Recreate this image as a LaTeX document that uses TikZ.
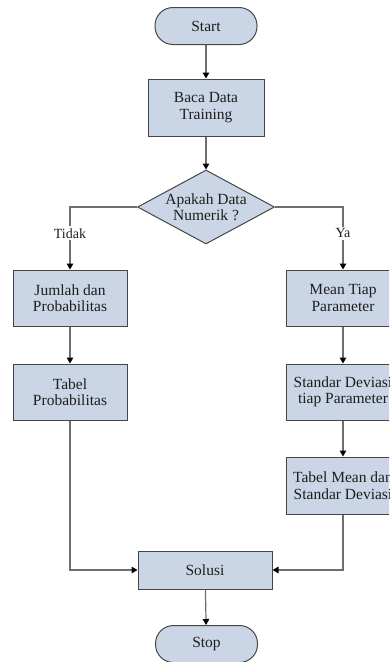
\documentclass[tikz,border=0pt]{standalone}
\usepackage{fontspec}
\setmainfont{Liberation Serif}
\usetikzlibrary{shapes.geometric,arrows.meta}

\definecolor{boxfill}{RGB}{202,214,230}
\definecolor{boxline}{RGB}{70,70,70}
\definecolor{linecol}{RGB}{110,110,110}
\definecolor{textcol}{RGB}{30,30,30}

\tikzset{
    box/.style={draw=boxline, fill=boxfill, line width=1pt, minimum width=114pt,
        minimum height=56pt, inner sep=0pt, align=center, text=textcol,
        font=\fontsize{15.5}{16.5}\selectfont},
    term/.style={box, rounded corners=18pt, minimum width=102pt, minimum height=37pt},
    cond/.style={diamond, draw=boxline, fill=boxfill, line width=1pt, aspect=1.85,
        minimum width=137pt, minimum height=74pt, inner sep=0pt, align=center,
        text=textcol, font=\fontsize{15.5}{16.5}\selectfont},
    flow/.style={draw=linecol, line width=1.2pt, -{Triangle[length=6pt,width=6.5pt,color=black]}},
    lbl/.style={fill=white, text=textcol, inner sep=2pt, font=\fontsize{14}{15}\selectfont}
}

\begin{document}
\begin{tikzpicture}[x=1pt, y=-1pt]
    \useasboundingbox (0,0) rectangle (389,662);
    \clip (0,0) rectangle (389,662);

    % Main column
    \node[term] (start) at (206,26) {Start};
    \node[box, minimum width=116pt, minimum height=57pt] (baca) at (206,107.5) {Baca Data\\Training};
    \node[cond] (cek) at (206,207) {Apakah Data\\Numerik ?};

    % Left branch (Tidak)
    \node[box] (jumlah) at (70,298) {Jumlah dan\\Probabilitas};
    \node[box] (tabel) at (70,392) {Tabel\\Probabilitas};

    % Right branch (Ya)
    \node[box] (mean) at (343,298) {Mean Tiap\\Parameter};
    \node[box] (standar) at (343,392) {Standar Deviasi\\tiap Parameter};
    \node[box, minimum height=57pt] (tabelmean) at (343,485.5) {Tabel Mean dan\\Standar Deviasi};

    % Result
    \node[box, minimum width=134pt, minimum height=38pt] (solusi) at (205,570) {Solusi};
    \node[term] (stop) at (206.5,644) {Stop};

    % Connect the steps
    \draw[flow] (start) -- (baca);
    \draw[flow] (baca) -- (cek);
    \draw[flow] (cek.west) -| node[lbl, pos=0.71] {Tidak} (jumlah.north);
    \draw[flow] (cek.east) -| node[lbl, pos=0.71] {Ya} (mean.north);
    \draw[flow] (jumlah) -- (tabel);
    \draw[flow] (mean) -- (standar);
    \draw[flow] (standar) -- (tabelmean);
    \draw[flow] (tabel.south) |- (solusi.west);
    \draw[flow] (tabelmean.south) |- (solusi.east);
    \draw[flow] (solusi) -- (stop);
\end{tikzpicture}
\end{document}
